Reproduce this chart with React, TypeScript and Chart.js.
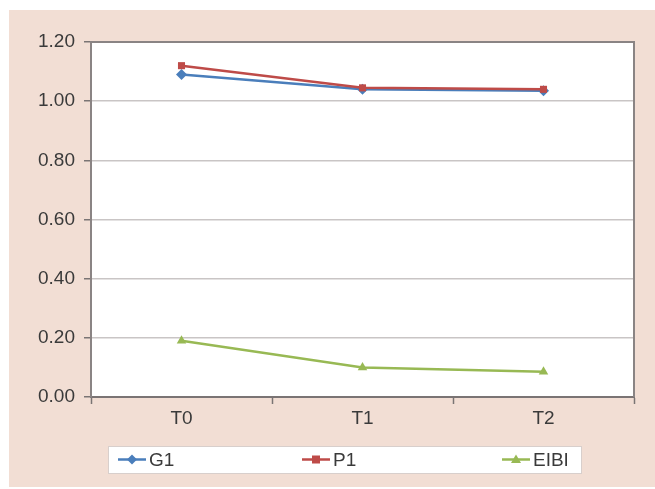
import React, { useEffect, useRef } from "react";
import { Chart, registerables } from "chart.js";

Chart.register(...registerables);

const categories = ["T0", "T1", "T2"];
const seriesNames = ["G1", "P1", "EIBI"];
const g1Values = [1.09, 1.04, 1.035];
const p1Values = [1.12, 1.045, 1.04];
const eibiValues = [0.19, 0.1, 0.085];
const yTicks = [0, 0.2, 0.4, 0.6, 0.8, 1.0, 1.2];

const colors = ["#4a7ebb", "#be4b48", "#98b954"];
const pointStyles = ["rectRot", "rect", "triangle"] as const;
const drawOrder = [1, 0, 2];

const BG = "#f2ded4";
const FONT = "Liberation Sans, Arial, sans-serif";
const FONT_SIZE = 19;

function drawMarker(ctx: CanvasRenderingContext2D, style: string, x: number, y: number, r: number) {
  ctx.beginPath();
  if (style === "rectRot") {
    ctx.moveTo(x, y - r);
    ctx.lineTo(x + r, y);
    ctx.lineTo(x, y + r);
    ctx.lineTo(x - r, y);
  } else if (style === "rect") {
    ctx.rect(x - r * 0.8, y - r * 0.8, r * 1.6, r * 1.6);
  } else {
    ctx.moveTo(x, y - r);
    ctx.lineTo(x + r, y + r * 0.7);
    ctx.lineTo(x - r, y + r * 0.7);
  }
  ctx.closePath();
  ctx.fill();
}

const framePlugin = {
  id: "framePlugin",
  beforeDraw(chart: any) {
    const { ctx, chartArea, width, height } = chart;
    ctx.save();
    ctx.fillStyle = BG;
    ctx.fillRect(0, 0, width, height);
    ctx.fillStyle = "#ffffff";
    ctx.fillRect(chartArea.left, chartArea.top, chartArea.right - chartArea.left, chartArea.bottom - chartArea.top);
    ctx.restore();
  },
  afterDatasetsDraw(chart: any) {
    const { ctx, chartArea } = chart;
    ctx.save();
    ctx.strokeStyle = "#8a8484";
    ctx.lineWidth = 2;
    ctx.beginPath();
    ctx.moveTo(chartArea.left, chartArea.top);
    ctx.lineTo(chartArea.right, chartArea.top);
    ctx.lineTo(chartArea.right, chartArea.bottom);
    ctx.stroke();
    ctx.restore();
  },
  afterDraw(chart: any) {
    const { ctx } = chart;
    const boxL = 99;
    const boxR = 572;
    const boxT = 436;
    const boxB = 463;
    const itemX = [109, 293, 493];
    const cy = (boxT + boxB) / 2;
    ctx.save();
    ctx.fillStyle = "#ffffff";
    ctx.fillRect(boxL, boxT, boxR - boxL, boxB - boxT);
    ctx.strokeStyle = "#d8cfcc";
    ctx.lineWidth = 1;
    ctx.strokeRect(boxL + 0.5, boxT + 0.5, boxR - boxL, boxB - boxT);
    chart.data.datasets.forEach((ds: any, i: number) => {
      const x0 = itemX[i];
      ctx.strokeStyle = ds.borderColor;
      ctx.lineWidth = 2.5;
      ctx.beginPath();
      ctx.moveTo(x0, cy);
      ctx.lineTo(x0 + 28, cy);
      ctx.stroke();
      ctx.fillStyle = ds.backgroundColor;
      drawMarker(ctx, ds.pointStyle, x0 + 14, cy, 5);
      ctx.fillStyle = "#3a3a3a";
      ctx.font = `${FONT_SIZE}px ${FONT}`;
      ctx.textBaseline = "middle";
      ctx.textAlign = "left";
      ctx.fillText(ds.label, x0 + 31, cy + 1);
    });
    ctx.restore();
  },
};

export default function App() {
  const ref = useRef<HTMLCanvasElement | null>(null);
  useEffect(() => {
    if (!ref.current) return;
    const allSeries = [g1Values, p1Values, eibiValues];
    const chart = new Chart(ref.current, {
      type: "line",
      data: {
        labels: categories,
        datasets: allSeries.map((vals, i) => ({
          label: seriesNames[i],
          data: vals,
          order: drawOrder[i],
          borderColor: colors[i],
          backgroundColor: colors[i],
          pointStyle: pointStyles[i],
          pointRadius: i === 1 ? 5 : 5.5,
          pointBorderWidth: 0,
          borderWidth: 2.5,
          tension: 0,
        })),
      },
      options: {
        animation: false,
        responsive: false,
        devicePixelRatio: 1,
        layout: { padding: { left: 0, top: 32, right: 21, bottom: 0 } },
        plugins: { legend: { display: false }, tooltip: { enabled: false } },
        scales: {
          x: {
            type: "category",
            offset: true,
            grid: {
              offset: true,
              drawOnChartArea: false,
              drawTicks: true,
              tickLength: 7,
              tickColor: "#7a7474",
              tickWidth: 1.5,
            },
            border: { display: true, color: "#7a7474", width: 2 },
            ticks: { color: "#3a3a3a", font: { family: FONT, size: FONT_SIZE }, padding: 3 },
            afterFit(scale: any) {
              scale.height = 90;
            },
          },
          y: {
            min: 0,
            max: 1.2,
            afterBuildTicks(scale: any) {
              scale.ticks = yTicks.map((v) => ({ value: v }));
            },
            grid: {
              color: "#c9c5c5",
              lineWidth: 1.5,
              tickLength: 7,
              tickColor: "#7a7474",
              tickWidth: 1.5,
            },
            border: { display: true, color: "#8a8484", width: 2 },
            ticks: {
              color: "#3a3a3a",
              font: { family: FONT, size: FONT_SIZE },
              padding: 9,
              callback: (v: any) => Number(v).toFixed(2),
            },
            afterFit(scale: any) {
              scale.width = 82;
            },
          },
        },
      },
      plugins: [framePlugin],
    });
    return () => chart.destroy();
  }, []);
  return (
    <div style={{ position: "absolute", left: 9, top: 10, width: 646, height: 477 }}>
      <canvas ref={ref} width={646} height={477} style={{ width: 646, height: 477, display: "block" }} />
    </div>
  );
}
